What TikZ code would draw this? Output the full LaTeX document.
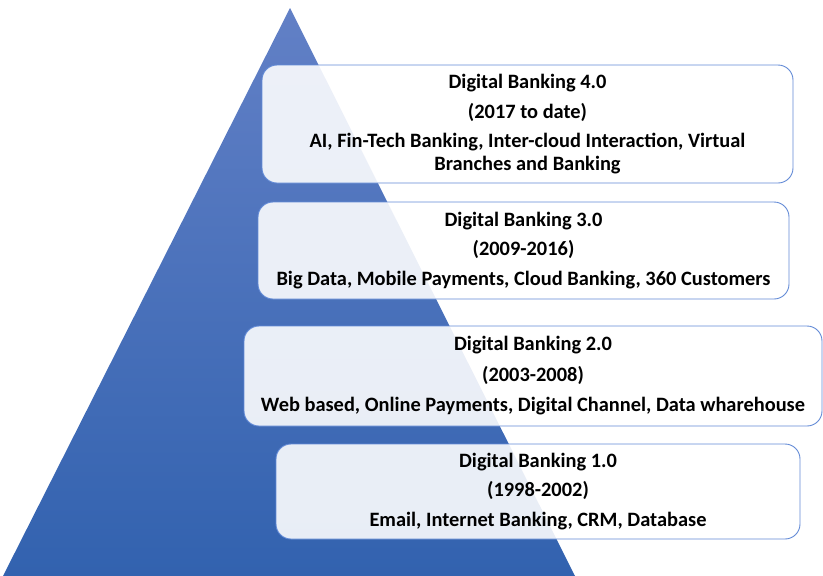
\documentclass[tikz,border=0pt]{standalone}
\usepackage{fontspec}
\setmainfont{Carlito}

\begin{document}
\begin{tikzpicture}[x=1pt, y=-1pt]
    % warna
    \definecolor{tritop}{RGB}{98,128,198}
    \definecolor{tribot}{RGB}{50,98,175}
    \definecolor{boxline}{RGB}{98,138,214}

    % gaya kotak
    \tikzstyle{level}=[draw=boxline, line width=0.9pt, rounded corners=15pt,
        fill=white, fill opacity=0.89, text opacity=1, inner sep=0pt,
        align=center, font=\bfseries\fontsize{20.4}{22.5}\selectfont]

    \useasboundingbox (0,0) rectangle (823,576);

    % piramida
    \coordinate (apex) at (290,8);
    \coordinate (kiri) at (3,576);
    \coordinate (kanan) at (575,576);
    \shade[top color=tritop, bottom color=tribot] (apex) -- (kiri) -- (kanan) -- cycle;

    % tingkat
    \node[level, minimum width=531pt, minimum height=118pt] (db4) at (527.5,124)
        {Digital Banking 4.0\\[7pt] (2017 to date)\\[7pt]
         AI, Fin-Tech Banking, Inter-cloud Interaction, Virtual\\ Branches and Banking};
    \node[level, minimum width=531pt, minimum height=97pt] (db3) at (523.5,250.5)
        {Digital Banking 3.0\\[7pt] (2009-2016)\\[7pt]
         Big Data, Mobile Payments, Cloud Banking, 360 Customers};
    \node[level, minimum width=578pt, minimum height=100pt] (db2) at (533,376)
        {Digital Banking 2.0\\[8pt] (2003-2008)\\[8pt]
         Web based, Online Payments, Digital Channel, Data wharehouse};
    \node[level, minimum width=524pt, minimum height=95pt] (db1) at (538,491.5)
        {Digital Banking 1.0\\[7pt] (1998-2002)\\[7pt]
         Email, Internet Banking, CRM, Database};
\end{tikzpicture}
\end{document}
